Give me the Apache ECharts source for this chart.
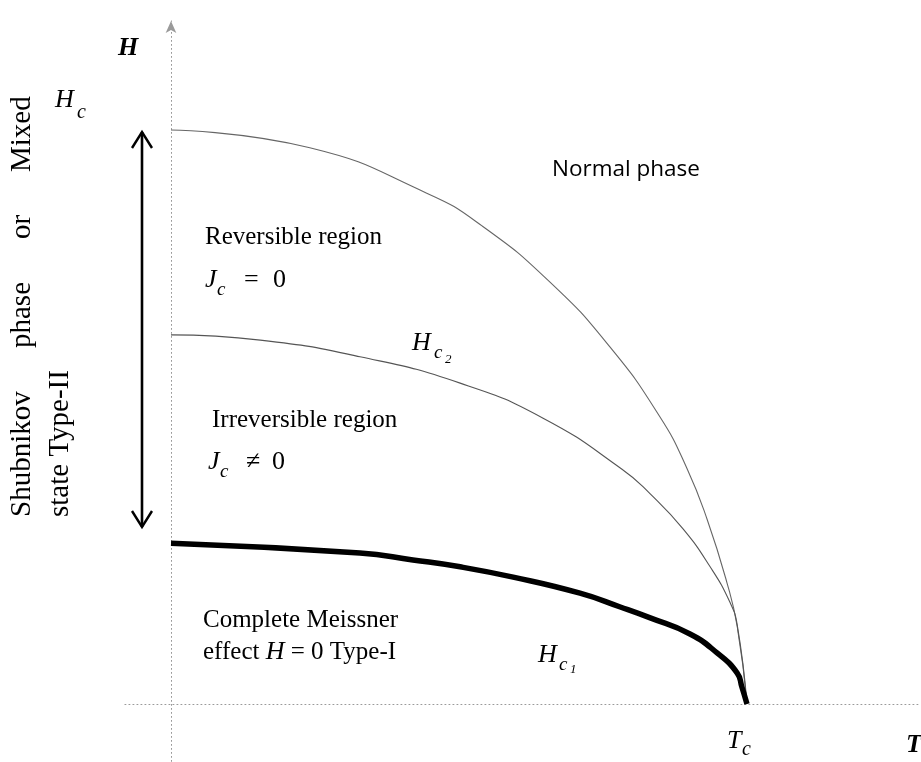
<!DOCTYPE html>
<html>
<head>
<meta charset="utf-8">
<script src="https://cdn.jsdelivr.net/npm/echarts@6/dist/echarts.min.js"></script>
<style>
html,body{margin:0;padding:0;background:#fff;}
#c{width:921px;height:762px;}
</style>
</head>
<body>
<div id="c"></div>
<script>
// Reduced temperature T/Tc and field H/Hc2(0)
const T_HC2 = [0, 0.241, 0.444, 0.540, 0.658, 0.762, 0.849, 0.896, 0.931, 0.965, 0.983, 1.0];
const HC2   = [1.0, 0.969, 0.890, 0.833, 0.735, 0.622, 0.500, 0.410, 0.321, 0.212, 0.135, 0];

const T_IRR = [0, 0.155, 0.328, 0.502, 0.646, 0.783, 0.832, 0.889, 0.936, 0.970, 0.983, 1.0];
const H_IRR = [0.643, 0.634, 0.605, 0.559, 0.498, 0.409, 0.366, 0.305, 0.239, 0.178, 0.138, 0];

const T_HC1 = [0, 0.328, 0.420, 0.502, 0.594, 0.710, 0.780, 0.832, 0.901, 0.948, 0.983, 0.991, 1.0];
const HC1   = [0.280, 0.263, 0.251, 0.239, 0.221, 0.193, 0.169, 0.150, 0.122, 0.089, 0.054, 0.030, 0];

const pairs = (xs, ys) => xs.map((x, i) => [x, ys[i]]);

const chart = echarts.init(document.getElementById('c'), null, {renderer: 'canvas'});

const serif = "'Liberation Serif', 'DejaVu Serif', serif";
const axisStyle = {color: '#9a9a9a', width: 1, type: [1, 3]};

function txt(text, x, y, size, opts) {
  opts = opts || {};
  return {
    type: 'text', x: x, y: y, rotation: opts.rot || 0, z: 10,
    style: {
      text: text,
      font: (opts.style || '') + ' ' + (opts.weight || '') + ' ' + size + 'px ' + (opts.family || serif),
      fill: '#000',
      align: opts.align || 'left',
      verticalAlign: opts.va || 'middle'
    }
  };
}
const it = {style: 'italic'};
const bi = {style: 'italic', weight: 'bold'};
const rot = {rot: Math.PI / 2};

const option = {
  backgroundColor: '#fff',
  animation: false,
  grid: {left: 124.92, top: 20.94, width: 794.88, height: 740.46, containLabel: false},
  xAxis: {
    type: 'value', min: -0.08, max: 1.3,
    axisLine: {show: true, onZero: true, lineStyle: axisStyle},
    axisTick: {show: false}, axisLabel: {show: false}, splitLine: {show: false}
  },
  yAxis: {
    type: 'value', min: -0.1, max: 1.19,
    axisLine: {show: true, onZero: true, symbol: ['none', 'arrow'], symbolSize: [8, 12], lineStyle: axisStyle},
    axisTick: {show: false}, axisLabel: {show: false}, splitLine: {show: false}
  },
  series: [
    {
      name: 'Hc2', type: 'line', data: pairs(T_HC2, HC2), smooth: 0.5,
      showSymbol: false, lineStyle: {color: '#666', width: 1.1}
    },
    {
      name: 'Irreversibility', type: 'line', data: pairs(T_IRR, H_IRR), smooth: 0.5,
      showSymbol: false, lineStyle: {color: '#555', width: 1.1}
    },
    {
      name: 'Hc1', type: 'line', data: pairs(T_HC1, HC1), smooth: 0.5,
      showSymbol: false, lineStyle: {color: '#000', width: 5.5}
    }
  ],
  graphic: [
    // axis names
    txt('H', 118, 48, 26, bi),
    txt('T', 906, 745, 26, bi),
    // Hc
    txt('H', 55, 100, 26, it),
    txt('c', 77, 113, 20, it),
    // Tc
    txt('T', 727, 741, 26, it),
    txt('c', 742, 750, 20, it),
    // regions
    txt('Normal phase', 552, 170, 22.5, {family: "'Open Sans', 'Noto Sans', sans-serif"}),
    txt('Reversible region', 205, 237, 25),
    txt('J', 205, 280, 26, it),
    txt('c', 217, 290, 19, it),
    txt('=', 244, 280, 26),
    txt('0', 273, 280, 26),
    txt('H', 412, 343, 26, it),
    txt('c', 434, 353, 19, it),
    txt('2', 445, 360, 13, it),
    txt('Irreversible region', 212, 420, 25),
    txt('J', 208, 462, 26, it),
    txt('c', 220, 472, 19, it),
    txt('\u2260', 246, 462, 26),
    txt('0', 272, 462, 26),
    txt('Complete Meissner', 203, 620, 25),
    {
      type: 'text', x: 203, y: 652, z: 10,
      style: {
        text: '{n|effect }{i|H}{n| = 0 Type-I}',
        verticalAlign: 'middle', align: 'left',
        rich: {
          n: {font: '25px ' + serif, fill: '#000'},
          i: {font: 'italic 26px ' + serif, fill: '#000'}
        }
      }
    },
    txt('H', 538, 655, 26, it),
    txt('c', 559, 665, 19, it),
    txt('1', 570, 670, 13, it),
    // rotated side text (justified first line)
    txt('Shubnikov', 22, 517, 29, rot),
    txt('phase', 22, 348, 29, rot),
    txt('or', 22, 239, 29, rot),
    txt('Mixed', 22, 172, 29, rot),
    txt('state Type-II', 60, 517, 29, rot),
    // double-headed arrow
    {type: 'line', z: 10, shape: {x1: 142, y1: 132, x2: 142, y2: 527}, style: {stroke: '#000', lineWidth: 2.6}},
    {type: 'polyline', z: 10, shape: {points: [[132, 148], [142, 132], [152, 148]]}, style: {stroke: '#000', lineWidth: 2.4, fill: null}},
    {type: 'polyline', z: 10, shape: {points: [[132, 511], [142, 527], [152, 511]]}, style: {stroke: '#000', lineWidth: 2.4, fill: null}}
  ]
};
chart.setOption(option);
</script>
</body>
</html>
